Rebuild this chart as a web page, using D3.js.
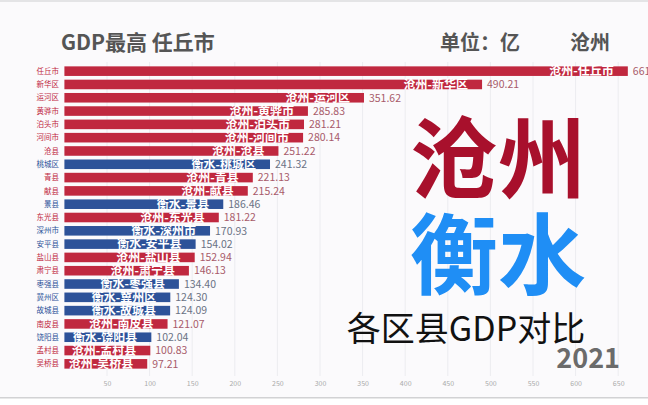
<!DOCTYPE html>
<html><head><meta charset="utf-8">
<script src="https://cdn.jsdelivr.net/npm/d3@7"></script>
<style>
html,body{margin:0;padding:0;background:#fbfafc;}
svg{display:block;}
</style></head>
<body><svg id="c" width="648" height="405"></svg>
<script>
const names = ["任丘市","新华区","运河区","黄骅市","泊头市","河间市","沧县","桃城区","青县","献县","景县","东光县","深州市","安平县","盐山县","肃宁县","枣强县","冀州区","故城县","南皮县","饶阳县","孟村县","吴桥县"];
const cities = ["沧州","沧州","沧州","沧州","沧州","沧州","沧州","衡水","沧州","沧州","衡水","沧州","衡水","衡水","沧州","沧州","衡水","衡水","衡水","沧州","衡水","沧州","沧州"];
const values = [661.30,490.21,351.62,285.83,281.21,280.14,251.22,241.32,221.13,215.24,186.46,181.22,170.93,154.02,152.94,146.13,134.40,124.30,124.09,121.07,102.04,100.83,97.21];
const ticks = [50,100,150,200,250,300,350,400,450,500,550,600,650];
const year = "2021";

const svg = d3.select("#c");
const font = "'Noto Sans CJK SC','Noto Sans',sans-serif";
const colBar = {"沧州":"#c0283f","衡水":"#2d5299"};
const colVal = {"沧州":"#a85a6a","衡水":"#6a7284"};

svg.append("rect").attr("x",0).attr("y",0).attr("width",648).attr("height",2).attr("fill","#e4e4e6");
svg.append("rect").attr("x",0).attr("y",398).attr("width",648).attr("height",7).attr("fill","#ffffff");
svg.append("rect").attr("x",0).attr("y",397).attr("width",648).attr("height",1.5).attr("fill","#d2d2d4");

const x = d3.scaleLinear().domain([0,650]).range([64.4,618.2]);
const y = d3.scaleBand().domain(names).range([64.5,370.5]).paddingInner(0.28).paddingOuter(0.14);

// grid
svg.append("g").selectAll("line").data(ticks).join("line")
  .attr("x1",d=>x(d)).attr("x2",d=>x(d)).attr("y1",62).attr("y2",376)
  .attr("stroke","#ececf0").attr("stroke-width",1);

// axis
const ax = svg.append("g").attr("transform","translate(0,378)")
  .call(d3.axisBottom(x).tickValues(ticks).tickSize(0).tickPadding(3));
ax.select(".domain").remove();
ax.selectAll("text").attr("fill","#aaaaaa").attr("font-size",7).attr("font-family",font);

const data = names.map((n,i)=>({name:n,city:cities[i],value:values[i]}));

// category labels
svg.append("g").selectAll("text").data(data).join("text")
  .attr("x",59).attr("y",d=>y(d.name)+y.bandwidth()/2)
  .attr("dy","0.35em").attr("text-anchor","end")
  .attr("font-size",7.5).attr("font-family",font)
  .attr("fill",d=>colBar[d.city]).text(d=>d.name);

// bars
svg.append("g").selectAll("rect").data(data).join("rect")
  .attr("x",x(0)).attr("y",d=>y(d.name))
  .attr("width",d=>x(d.value)-x(0)).attr("height",y.bandwidth())
  .attr("fill",d=>colBar[d.city]);

// bar labels
svg.append("g").selectAll("text").data(data).join("text")
  .attr("x",d=>x(d.value)-14).attr("y",d=>y(d.name)+y.bandwidth()/2)
  .attr("dy","0.36em").attr("text-anchor","end")
  .attr("font-size",12).attr("font-weight","bold").attr("font-family",font)
  .attr("fill","#ffffff").text(d=>d.city+"-"+d.name);

// value labels
svg.append("g").selectAll("text").data(data).join("text")
  .attr("x",d=>x(d.value)+5).attr("y",d=>y(d.name)+y.bandwidth()/2)
  .attr("dy","0.36em").attr("text-anchor","start")
  .attr("font-size",10.5).attr("font-family",font)
  .attr("fill",d=>colVal[d.city]).text(d=>d.value.toFixed(2));

// header
svg.append("text").attr("x",61).attr("y",50).attr("font-size",21).attr("font-weight","bold")
  .attr("font-family",font).attr("fill","#555555").text("GDP最高 任丘市");
svg.append("text").attr("x",440).attr("y",50).attr("font-size",20).attr("font-weight","bold")
  .attr("font-family",font).attr("fill","#555555").text("单位：亿");
svg.append("text").attr("x",570).attr("y",50).attr("font-size",20).attr("font-weight","bold")
  .attr("font-family",font).attr("fill","#555555").text("沧州");

// big overlay text
svg.append("text").attr("x",498).attr("y",191).attr("text-anchor","middle")
  .attr("font-size",88).attr("font-weight","bold").attr("font-family",font)
  .attr("fill","#a8102c").text("沧州");
svg.append("text").attr("x",498).attr("y",287).attr("text-anchor","middle")
  .attr("font-size",88).attr("font-weight","bold").attr("font-family",font)
  .attr("fill","#1f8ef5").text("衡水");
svg.append("text").attr("x",466).attr("y",341).attr("text-anchor","middle")
  .attr("font-size",34).attr("font-family",font)
  .attr("fill","#111111").text("各区县GDP对比");
svg.append("text").attr("x",620).attr("y",368).attr("text-anchor","end")
  .attr("font-size",27).attr("font-weight","bold").attr("font-family",font)
  .attr("fill","#6b6b6b").text(year);
</script></body></html>
